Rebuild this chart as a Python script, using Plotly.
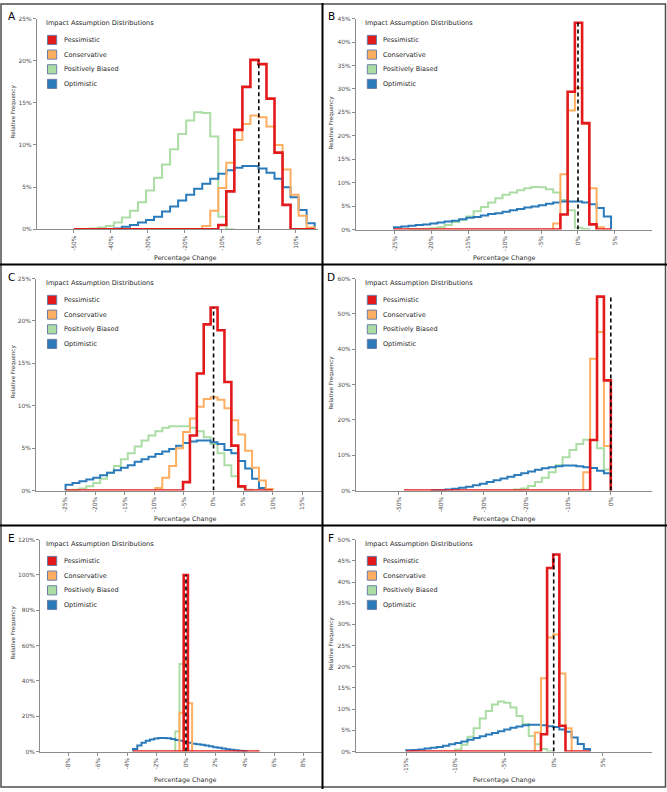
import plotly.graph_objects as go

W, H = 667, 792


def px(x):
    return x / W


def py(y):
    return 1 - y / H


# ---------------- data ----------------
series_names = ["Pessimistic", "Conservative", "Positively Biased", "Optimistic"]
series_colors = ["#e31a1c", "#fdae61", "#abdda4", "#2b7bba"]
panel_labels = ["A", "B", "C", "D", "E", "F"]

# histogram bins per panel: first bin edge (%), bin width (%)
bin_start = [-50.0, -25.1, -25.0, -48.8, -3.6, -15.0]
bin_width = [2.17, 0.987, 1.167, 1.627, 0.287, 0.623]

x_tick_values = [
    [-50, -40, -30, -20, -10, 0, 10],
    [-25, -20, -15, -10, -5, 0, 5],
    [-25, -20, -15, -10, -5, 0, 5, 10, 15],
    [-50, -40, -30, -20, -10, 0],
    [-8, -6, -4, -2, 0, 2, 4, 6, 8],
    [-15, -10, -5, 0, 5],
]
y_tick_values = [
    [0, 5, 10, 15, 20, 25],
    [0, 5, 10, 15, 20, 25, 30, 35, 40, 45],
    [0, 5, 10, 15, 20, 25],
    [0, 10, 20, 30, 40, 50, 60],
    [0, 20, 40, 60, 80, 100, 120],
    [0, 5, 10, 15, 20, 25, 30, 35, 40, 45, 50],
]

# relative frequency (%) per bin; (first bin index, values)
A_pessimistic = (0, [0] * 18 + [0.5, 4.5, 11.8, 16.9, 20.1, 19.6, 15.5, 9.1, 2.9, 0, 0, 0])
A_conservative = (16, [0.4, 2.2, 4.9, 7.9, 10.6, 12.5, 13.5, 13.3, 12.2, 10.0, 7.1, 4.1, 1.6, 0.2])
A_positive = (2, [0.1, 0.2, 0.4, 0.8, 1.4, 2.2, 3.2, 4.6, 6.1, 7.7, 9.5, 11.3, 12.9, 13.9, 13.8, 11.0, 1.5, 0])
A_optimistic = (5, [0.1, 0.3, 0.5, 0.8, 1.1, 1.5, 2.1, 2.7, 3.4, 4.1, 4.8, 5.4, 6.0, 6.6, 7.0, 7.3, 7.5, 7.5,
                    7.2, 6.7, 6.0, 5.0, 3.8, 2.3, 0.7])

B_pessimistic = (0, [0] * 23 + [3.2, 29.4, 44.1, 22.7, 1.1, 0, 0])
B_conservative = (22, [1.3, 11.8, 25.4, 30.2, 22.5, 8.8, 0.5])
B_positive = (2, [0.05, 0.1, 0.2, 0.3, 0.5, 1.0, 1.6, 2.1, 2.8, 3.9, 4.8, 5.8, 6.7, 7.4, 7.9, 8.4, 8.8, 9.1,
                  9.0, 8.6, 7.9, 6.3, 4.1, 0.4, 0.1])
B_optimistic = (0, [0.5, 0.65, 0.8, 0.95, 1.1, 1.3, 1.5, 1.7, 1.9, 2.2, 2.5, 2.7, 3.0, 3.3, 3.5, 3.8, 4.1, 4.4,
                    4.7, 4.9, 5.2, 5.5, 5.8, 6.0, 6.0, 6.0, 5.8, 5.4, 4.6, 2.8])

C_pessimistic = (0, [0] * 17 + [1.0, 6.5, 13.8, 19.6, 21.6, 18.9, 12.8, 5.3, 0.5, 0, 0, 0, 0])
C_conservative = (13, [0.3, 1.5, 2.9, 5.0, 6.9, 8.5, 9.9, 10.8, 11.0, 10.7, 9.7, 8.3, 6.6, 4.7, 2.7, 1.2, 0.2])
C_positive = (0, [0.05, 0.1, 0.25, 0.5, 0.9, 1.4, 2.1, 2.9, 3.7, 4.4, 5.2, 5.9, 6.5, 7.0, 7.4, 7.6, 7.6, 7.6,
                  7.4, 7.0, 6.3, 5.5, 4.4, 3.0, 1.7, 0.4, 0.1])
C_optimistic = (0, [0.7, 0.9, 1.1, 1.3, 1.5, 1.8, 2.1, 2.4, 2.7, 3.0, 3.4, 3.7, 4.0, 4.3, 4.6, 4.9, 5.3, 5.6,
                    5.8, 5.9, 5.9, 5.7, 5.5, 4.8, 4.4, 3.5, 2.6, 1.4, 0.3])

D_pessimistic = (0, [0] * 27 + [14.3, 54.9, 31.2])
D_conservative = (26, [5.2, 37.3, 44.9, 12.6])
D_positive = (16, [0.3, 0.6, 1.3, 2.4, 3.6, 5.2, 7.2, 9.4, 11.5, 13.2, 14.4, 14.3, 12.0, 6.0])
D_optimistic = (4, [0.1, 0.2, 0.3, 0.5, 0.8, 1.1, 1.5, 1.9, 2.4, 2.9, 3.4, 3.9, 4.4, 4.9, 5.4, 5.9, 6.3, 6.6,
                    6.9, 7.1, 7.1, 6.9, 6.6, 6.4, 5.6, 4.9])

E_pessimistic = (0, [0] * 12 + [100.0] + [0] * 17)
E_conservative = (11, [22.0, 50.7, 27.3])
E_positive = (10, [11.4, 49.6, 0])
E_optimistic = (0, [1.5, 3.5, 5.0, 6.1, 6.9, 7.4, 7.7, 7.7, 7.5, 7.1, 6.6, 6.1, 5.6, 5.0, 4.5, 4.1, 3.8, 3.4,
                    3.0, 2.5, 2.1, 1.7, 1.3, 1.0, 0.7, 0.5, 0.3])

F_pessimistic = (0, [0] * 22 + [4.1, 43.3, 46.5, 6.1, 0, 0, 0, 0])
F_conservative = (21, [4.5, 17.3, 26.9, 27.6, 18.4, 5.5])
F_positive = (8, [0.5, 1.6, 3.5, 5.5, 7.8, 9.6, 11.1, 11.8, 11.5, 10.4, 8.4, 6.5, 3.7, 1.7, 0.6, 0.1])
F_optimistic = (0, [0.3, 0.4, 0.5, 0.7, 0.9, 1.1, 1.4, 1.7, 2.0, 2.4, 2.8, 3.2, 3.6, 4.0, 4.4, 4.8, 5.2, 5.6,
                    5.9, 6.2, 6.3, 6.3, 6.2, 6.0, 5.8, 5.2, 4.7, 3.3, 1.8, 0.6])

panel_series = [
    [A_pessimistic, A_conservative, A_positive, A_optimistic],
    [B_pessimistic, B_conservative, B_positive, B_optimistic],
    [C_pessimistic, C_conservative, C_positive, C_optimistic],
    [D_pessimistic, D_conservative, D_positive, D_optimistic],
    [E_pessimistic, E_conservative, E_positive, E_optimistic],
    [F_pessimistic, F_conservative, F_positive, F_optimistic],
]

# ---------------- layout geometry (pixels) ----------------
geom = [
    # x0, x1, ytop, ybottom, xrange, yrange
    (36.7, 318.0, 15.7, 228.0, [-60.0, 16.0], [0, 25]),
    (355.7, 652.3, 15.7, 228.3, [-30.33, 10.14], [0, 45]),
    (36.0, 321.5, 277.7, 491.3, [-30.0, 18.24], [0, 25]),
    (355.7, 652.3, 277.7, 491.3, [-60.2, 9.8], [0, 60]),
    (40.0, 321.5, 540.7, 754.3, [-9.93, 9.22], [0, 120]),
    (355.7, 652.3, 540.7, 754.3, [-20.14, 10.03], [0, 50]),
]
row_top = [0, 0, 262, 262, 525, 525]
col_left_title = [43.5, 363.0]
col_square = [47.5, 367.3]
col_text = [61.5, 381.3]
letter_x = [11.7, 331.0]
ytitle_x = [13.3, 331.5]
ytitle_off = [109, 121]
xtitle_x = [185.0, 504.3]

FONT = "DejaVu Sans"
line_widths = [2.6, 2.0, 2.0, 2.0]
draw_order = [2, 3, 1, 0]
axis_gray = "#8c8c8c"

fig = go.Figure()
annotations = []
shapes = []

for p in range(6):
    n = p + 1
    xa = "x" if n == 1 else f"x{n}"
    ya = "y" if n == 1 else f"y{n}"
    s0, w = bin_start[p], bin_width[p]
    for si in draw_order:
        first, vals = panel_series[p][si]
        edges = [s0 + w * (first + i) for i in range(len(vals) + 1)]
        xs = [edges[0]] + edges[:-1] + [edges[-1]]
        ys = [0] + list(vals) + [0]
        fig.add_trace(go.Scatter(
            x=xs, y=ys, mode="lines", name=series_names[si],
            line=dict(color=series_colors[si], width=line_widths[si], shape="hv"),
            xaxis=xa, yaxis=ya, showlegend=False, hoverinfo="skip"))
    peak = max(panel_series[p][0][1])
    fig.add_trace(go.Scatter(
        x=[0, 0], y=[0, peak], mode="lines",
        line=dict(color="black", width=1.6, dash="4px,3px"),
        xaxis=xa, yaxis=ya, showlegend=False, hoverinfo="skip"))

    x0, x1, yt, yb, xr, yr = geom[p]
    xkey = "xaxis" if n == 1 else f"xaxis{n}"
    ykey = "yaxis" if n == 1 else f"yaxis{n}"
    fig.update_layout(**{
        xkey: dict(domain=[px(x0), px(x1)], range=xr, anchor=ya,
                   showgrid=False, zeroline=False, showline=True,
                   linecolor=axis_gray, linewidth=1,
                   ticks="outside", ticklen=3, tickcolor=axis_gray,
                   tickvals=x_tick_values[p],
                   ticktext=[f"{v}%" for v in x_tick_values[p]],
                   tickangle=-90,
                   tickfont=dict(family=FONT, size=5.9, color="#4d4d4d")),
        ykey: dict(domain=[py(yb), py(yt)], range=yr, anchor=xa,
                   showgrid=False, zeroline=False, showline=True,
                   linecolor=axis_gray, linewidth=1,
                   ticks="outside", ticklen=3, tickcolor=axis_gray,
                   tickvals=y_tick_values[p],
                   ticktext=[f"{v}%" for v in y_tick_values[p]],
                   tickfont=dict(family=FONT, size=5.9, color="#4d4d4d")),
    })

    col = p % 2
    top = row_top[p]
    # panel letter
    annotations.append(dict(x=px(letter_x[col]), y=py(top + 13.6), xref="paper", yref="paper",
                            text=panel_labels[p], showarrow=False, xanchor="center", yanchor="middle",
                            font=dict(family=FONT, size=10.5, color="black")))
    # axis titles
    annotations.append(dict(x=px(xtitle_x[col]), y=py(yb + 28.5), xref="paper", yref="paper",
                            text="Percentage Change", showarrow=False, xanchor="center", yanchor="middle",
                            font=dict(family=FONT, size=6.4, color="#333333")))
    annotations.append(dict(x=px(ytitle_x[col]), y=py(top + ytitle_off[col]), xref="paper", yref="paper",
                            text="Relative Frequency", showarrow=False, textangle=-90,
                            xanchor="center", yanchor="middle",
                            font=dict(family=FONT, size=5.6, color="#333333")))
    # legend
    annotations.append(dict(x=px(col_left_title[col]), y=py(top + 20.5), xref="paper", yref="paper",
                            text="Impact Assumption Distributions", showarrow=False,
                            xanchor="left", yanchor="middle",
                            font=dict(family=FONT, size=6.6, color="#262626")))
    for k, offs in enumerate([37.2, 52.0, 66.8, 81.5]):
        cy = top + offs
        sx = col_square[col]
        shapes.append(dict(type="rect", xref="paper", yref="paper",
                           x0=px(sx), x1=px(sx + 9.2), y0=py(cy + 4.6), y1=py(cy - 4.6),
                           fillcolor=series_colors[k], line=dict(color="#6b7fa6", width=1)))
        annotations.append(dict(x=px(col_text[col]), y=py(cy), xref="paper", yref="paper",
                                text=series_names[k], showarrow=False, xanchor="left", yanchor="middle",
                                font=dict(family=FONT, size=6.5, color="#262626")))

# frame and panel separators
shapes.append(dict(type="rect", xref="paper", yref="paper", x0=px(1), x1=px(665.5), y0=py(790), y1=py(1),
                   line=dict(color="#4d4d4d", width=1.5), fillcolor="rgba(0,0,0,0)", layer="above"))
shapes.append(dict(type="line", xref="paper", yref="paper", x0=px(322.5), x1=px(322.5), y0=py(0), y1=py(792),
                   line=dict(color="black", width=2), layer="above"))
for yy in (263.5, 526.5):
    shapes.append(dict(type="line", xref="paper", yref="paper", x0=px(0), x1=px(667), y0=py(yy), y1=py(yy),
                       line=dict(color="black", width=2), layer="above"))

fig.update_layout(
    width=W, height=H,
    margin=dict(l=0, r=0, t=0, b=0),
    paper_bgcolor="white", plot_bgcolor="white",
    showlegend=False,
    annotations=annotations, shapes=shapes,
    font=dict(family=FONT),
)

fig.write_html("out.html",
               config={"displayModeBar": False, "staticPlot": True},
               post_script="document.body.style.margin='0';document.body.style.padding='0';")
